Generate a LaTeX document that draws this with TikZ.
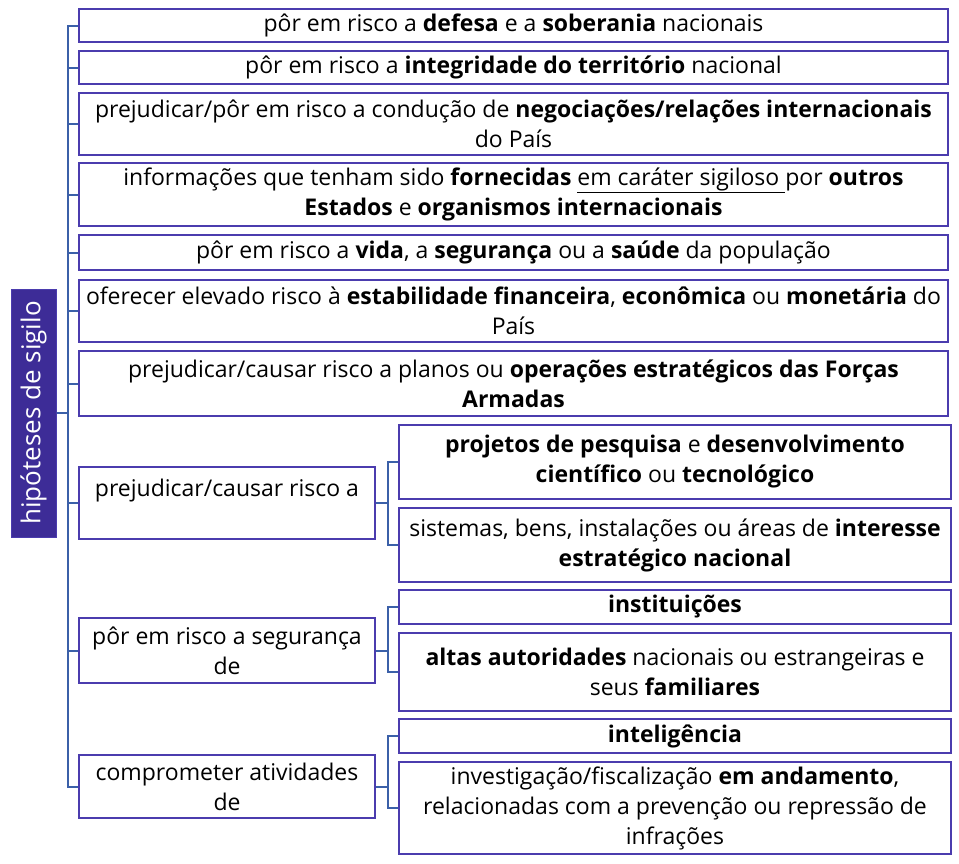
\documentclass[tikz,border=0pt]{standalone}
\usepackage{fontspec}
\setmainfont{Open Sans}
\usepackage{tikz}

\definecolor{boxline}{HTML}{4B3CAE}
\definecolor{rootfill}{HTML}{3D2C97}
\definecolor{linkline}{HTML}{3B60A8}

\tikzset{
  box/.style={draw=boxline, line width=1.2pt, rectangle, inner sep=1pt,
    align=center, font=\fontsize{23}{30}\selectfont},
  mainbox/.style={box, minimum width=869pt},
  leafbox/.style={box, minimum width=296pt},
  subbox/.style={box, minimum width=552pt},
  rootbox/.style={fill=rootfill, draw=boxline, line width=1pt, rectangle,
    minimum width=45pt, minimum height=248pt, inner sep=0pt,
    text=white, font=\fontsize{26}{28}\selectfont},
  link/.style={draw=linkline, line width=2pt}
}

\begin{document}
\begin{tikzpicture}[x=1pt, y=-1pt]
    \useasboundingbox (0,0) rectangle (959,863);

    % Root
    \node[rootbox] (root) at (33.5,413) {\rotatebox{90}{hipóteses de sigilo}};

    % Main branches
    \node[mainbox, minimum height=33pt] (b1) at (513.5,25.5)
        {pôr em risco a \textbf{defesa} e a \textbf{soberania} nacionais};
    \node[mainbox, minimum height=33pt] (b2) at (513.5,67.5)
        {pôr em risco a \textbf{integridade do território} nacional};
    \node[mainbox, minimum height=62pt] (b3) at (513.5,124)
        {prejudicar/pôr em risco a condução de \textbf{negociações/relações internacionais}\\ do País};
    \node[mainbox, minimum height=63pt] (b4) at (513.5,194.5)
        {informações que tenham sido \textbf{fornecidas} \underline{em caráter sigiloso\ }por \textbf{outros}\\ \textbf{Estados} e \textbf{organismos internacionais}};
    \node[mainbox, minimum height=35pt] (b5) at (513.5,252.5)
        {pôr em risco a \textbf{vida}, a \textbf{segurança} ou a \textbf{saúde} da população};
    \node[mainbox, minimum height=62pt] (b6) at (513.5,311)
        {oferecer elevado risco à \textbf{estabilidade financeira}, \textbf{econômica} ou \textbf{monetária} do\\ País};
    \node[mainbox, minimum height=65pt] (b7) at (513.5,383.5)
        {prejudicar/causar risco a planos ou \textbf{operações estratégicos das Forças}\\ \textbf{Armadas}};
    \node[leafbox, minimum height=72pt] (b8) at (227,503)
        {prejudicar/causar risco a\\ \mbox{}};
    \node[leafbox, minimum height=65pt] (b9) at (227,650.5)
        {pôr em risco a segurança\\ de};
    \node[leafbox, minimum height=63pt] (b10) at (227,786.5)
        {comprometer atividades\\ de};

    % Sub branches
    \node[subbox, minimum height=74pt] (c8a) at (675,462)
        {\textbf{projetos de pesquisa} e \textbf{desenvolvimento}\\ \textbf{científico} ou \textbf{tecnológico}};
    \node[subbox, minimum height=74pt] (c8b) at (675,545)
        {sistemas, bens, instalações ou áreas de \textbf{interesse}\\ \textbf{estratégico nacional}};
    \node[subbox, minimum height=34pt] (c9a) at (675,607)
        {\textbf{instituições}};
    \node[subbox, minimum height=78pt] (c9b) at (675,672)
        {\textbf{altas autoridades} nacionais ou estrangeiras e\\ seus \textbf{familiares}};
    \node[subbox, minimum height=34pt] (c10a) at (675,736)
        {\textbf{inteligência}};
    \node[subbox, minimum height=92pt] (c10b) at (675,808)
        {investigação/fiscalização \textbf{em andamento},\\ relacionadas com a prevenção ou repressão de\\ infrações};

    % Connectors
    \foreach \bx in {b1,b2,b3,b4,b5,b6,b7,b8,b9,b10} {
        \draw[link] (root.east) -- ++(11,0) |- (\bx.west);
    }
    \foreach \px/\cx in {b8/c8a,b8/c8b,b9/c9a,b9/c9b,b10/c10a,b10/c10b} {
        \draw[link] (\px.east) -- ++(12,0) |- (\cx.west);
    }
\end{tikzpicture}
\end{document}
